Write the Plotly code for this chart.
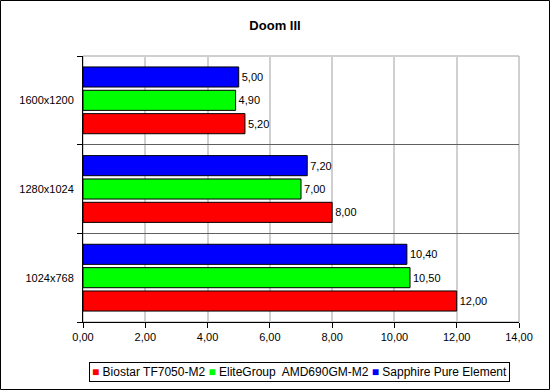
import plotly.graph_objects as go

categories = ["1024x768", "1280x1024", "1600x1200"]
series_names = ["Biostar TF7050-M2", "EliteGroup  AMD690GM-M2", "Sapphire Pure Element"]
biostar = [12.00, 8.00, 5.20]
elitegroup = [10.50, 7.00, 4.90]
sapphire = [10.40, 7.20, 5.00]
x_ticks = [0, 2, 4, 6, 8, 10, 12, 14]
colors = ["#FF0000", "#00FF00", "#0000FF"]

W, H = 550, 390
ml, mr, mt, mb = 83, 31, 56, 68
FONT = "Liberation Sans, Arial"

fig = go.Figure()
for name, vals, col in zip(series_names, [biostar, elitegroup, sapphire], colors):
    fig.add_trace(go.Bar(
        y=categories, x=vals, name=name, orientation="h",
        marker=dict(color=col, line=dict(color="#000000", width=1)),
        texttemplate="%{x:.2f}", textposition="outside",
        textfont=dict(family=FONT, size=11, color="#000000"),
        cliponaxis=False, showlegend=False,
    ))

pw = W - ml - mr
ph = H - mt - mb
fig.update_layout(
    width=W, height=H,
    margin=dict(l=ml, r=mr, t=mt, b=mb, pad=0),
    paper_bgcolor="#FFFFFF", plot_bgcolor="#FFFFFF",
    separators=",.",
    barmode="group", bargap=0.21, bargroupgap=0.14,
    font=dict(family=FONT, size=11, color="#000000"),
    title=dict(text="<b>Doom III</b>", x=0.5, xanchor="center", y=1 - 25 / H, yanchor="middle",
               font=dict(family=FONT, size=13, color="#000000")),
    xaxis=dict(range=[0, 14], tickvals=x_ticks, tickformat=".2f",
               showgrid=True, gridcolor="#D0D0D0", gridwidth=2,
               ticks="outside", ticklen=5, tickcolor="#000000",
               showline=True, linecolor="#000000", linewidth=1, mirror=False,
               zeroline=False, fixedrange=True),
    yaxis=dict(type="category", categoryorder="array", categoryarray=categories,
               tickson="boundaries", ticks="outside", ticklen=5, tickcolor="#000000",
               showgrid=True, gridcolor="#606060", gridwidth=1,
               showline=True, linecolor="#000000", linewidth=1,
               ticklabelstandoff=6, fixedrange=True),
    showlegend=False,
)

# compact legend (Excel style) as a bordered annotation built from the series names/colours
legend_text = " ".join(
    f'<span style="color:{c}">■</span> {n}' for n, c in zip(series_names, colors)
)
fig.add_annotation(
    text=legend_text, xref="paper", yref="paper",
    x=(299 - ml) / pw, y=-(371.5 - (mt + ph)) / ph,
    xanchor="center", yanchor="middle", showarrow=False,
    font=dict(family=FONT, size=12, color="#000000"),
    bordercolor="#000000", borderwidth=1, borderpad=2, bgcolor="#FFFFFF",
)
# plot area border (top/right) in gray
fig.add_shape(type="rect", xref="paper", yref="paper", x0=0, y0=0, x1=1, y1=1,
              line=dict(color="#A0A0A0", width=1), layer="below")
# outer frame around the whole image
fig.add_shape(type="rect", xref="paper", yref="paper",
              x0=-(ml - 0.5) / pw, x1=1 + (mr - 0.5) / pw,
              y0=-(mb - 0.5) / ph, y1=1 + (mt - 0.5) / ph,
              line=dict(color="#000000", width=1))
fig.write_html("out.html")
